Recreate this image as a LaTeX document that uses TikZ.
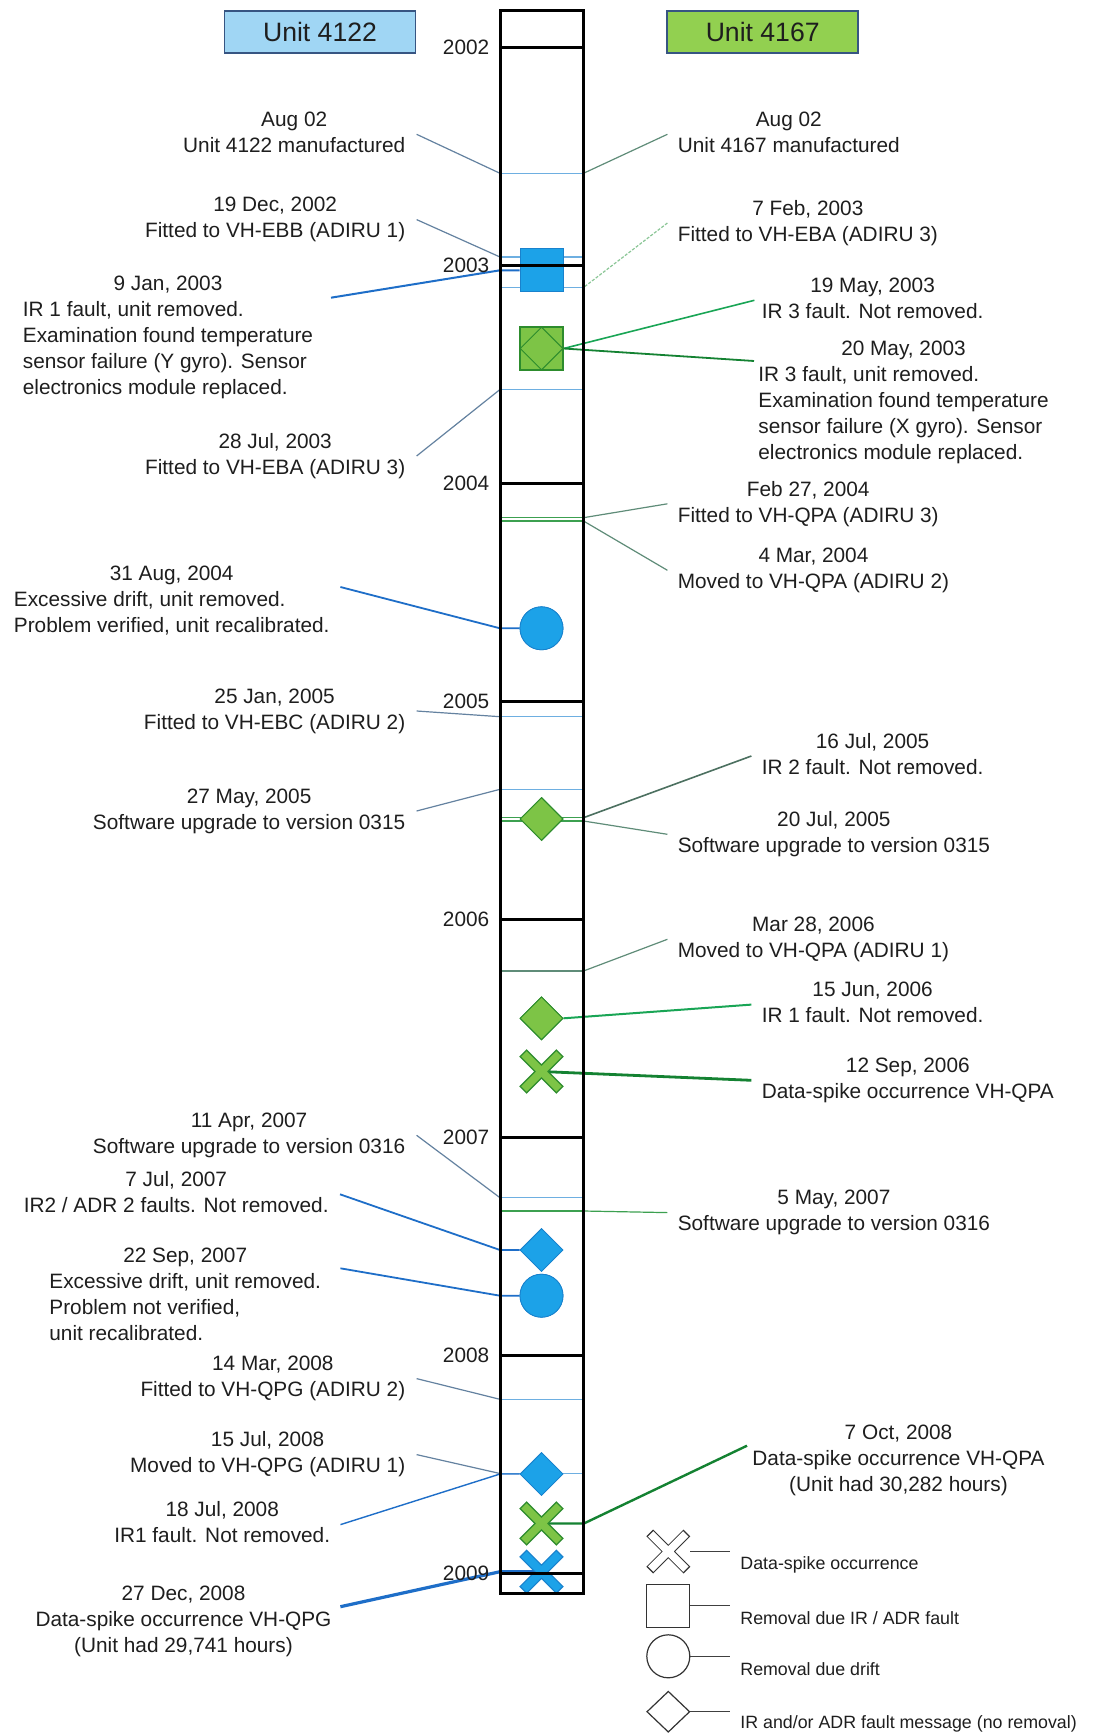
\documentclass[tikz,border=0pt]{standalone}
\usepackage{fontspec}
\setmainfont{Liberation Sans}
\usetikzlibrary{shapes.geometric}
\definecolor{tcol}{RGB}{30,30,30}
\definecolor{bfill}{RGB}{28,162,232}
\definecolor{bedge}{RGB}{25,130,205}
\definecolor{bline}{RGB}{30,110,200}
\definecolor{btick}{RGB}{110,175,225}
\definecolor{gfill}{RGB}{125,196,70}
\definecolor{gedge}{RGB}{45,140,45}
\definecolor{gline}{RGB}{25,165,85}
\definecolor{dgline}{RGB}{20,130,50}
\definecolor{gtick}{RGB}{60,160,80}
\definecolor{lgrey}{RGB}{100,130,160}
\definecolor{rgrey}{RGB}{95,140,120}
\definecolor{hblue}{RGB}{160,214,244}
\definecolor{hgreen}{RGB}{146,208,80}
\definecolor{hedge}{RGB}{55,85,130}
\newcommand{\tcen}[1]{\begin{tabular}[t]{@{}c@{}}#1\end{tabular}}
\newcommand{\tlft}[2]{\begin{tabular}[t]{@{}l@{}}\multicolumn{1}{@{}c@{}}{#1}\\#2\end{tabular}}
\newcommand{\mytick}[3]{\coordinate (#1l) at (500,#2); \coordinate (#1r) at (583.5,#2); \draw[#3] (#1l) -- (#1r);}
% X mark: #1 centre coordinate, #2 outline colour, #3 inner colour, #4 outer width, #5 inner width
\newcommand{\xmark}[5]{%
  \draw[line width=#4, draw=#2] ([shift={(-9.3pt,-9.3pt)}]#1) -- ([shift={(9.3pt,9.3pt)}]#1)
      ([shift={(-9.3pt,9.3pt)}]#1) -- ([shift={(9.3pt,-9.3pt)}]#1);
  \draw[line width=#5, draw=#3] ([shift={(-8.8pt,-8.8pt)}]#1) -- ([shift={(8.8pt,8.8pt)}]#1)
      ([shift={(-8.8pt,8.8pt)}]#1) -- ([shift={(8.8pt,-8.8pt)}]#1);}
\begin{document}
\begin{tikzpicture}[
  x=0.5pt,y=-0.5pt,
  txt/.style={inner sep=0pt, text=tcol, font=\fontsize{10.4}{13}\selectfont},
  lgtxt/.style={inner sep=0pt, text=tcol, font=\fontsize{8.9}{11}\selectfont, anchor=base west},
  yr/.style={txt, anchor=east},
  tkb/.style={draw=btick, line width=0.6pt},
  tkg/.style={draw=gtick, line width=0.6pt},
  lead/.style={line width=0.6pt},
  bsq/.style={rectangle, draw=bedge, fill=bfill, line width=0.4pt, minimum size=21.5pt, inner sep=0pt},
  gsq/.style={rectangle, draw=gedge, fill=gfill, line width=0.6pt, minimum size=21.5pt, inner sep=0pt},
  bcirc/.style={circle, draw=bedge, fill=bfill, line width=0.4pt, minimum size=21.5pt, inner sep=0pt},
  bdia/.style={diamond, draw=bedge, fill=bfill, line width=0.4pt, minimum width=21.5pt, minimum height=21.5pt, inner sep=0pt},
  gdia/.style={diamond, draw=gedge, fill=gfill, line width=0.5pt, minimum width=21.5pt, minimum height=21.5pt, inner sep=0pt},
  hdr/.style={draw=hedge, line width=0.8pt, minimum width=95.5pt, minimum height=21pt, inner sep=0pt, text=tcol, font=\fontsize{13.3}{16}\selectfont},
  lgline/.style={draw=black!75, line width=0.6pt},
]
\useasboundingbox[fill=white] (0,0) rectangle (1093,1733);

% headers
\node[hdr, fill=hblue] (h1) at (320,32) {Unit 4122};
\node[hdr, fill=hgreen] (h2) at (762.7,32) {Unit 4167};

% column body
\node[draw=none, fill=white, minimum width=41.5pt, minimum height=791pt, inner sep=0pt, anchor=north west] (col) at (500,11) {};

% ticks
\mytick{t1}{173.3}{tkb}
\mytick{t2}{257}{tkb}
\mytick{t3}{287.5}{tkb}
\mytick{t4}{389.5}{tkb}
\mytick{t5}{517.7}{tkg}
\mytick{t6}{521}{tkg}
\mytick{t7}{716.7}{tkb}
\mytick{t8}{789.3}{tkb}
\mytick{t9}{817.7}{tkg}
\mytick{t10}{821}{tkg}
\mytick{t11}{971}{draw=rgrey, line width=0.6pt}
\mytick{t12}{1197.7}{tkb}
\mytick{t13}{1211}{tkg}
\mytick{t14}{1399.3}{tkb}
\mytick{t15}{1473.5}{tkb}

% left texts (Unit 4122)
\node[txt, anchor=base east] (L1) at (405.6,126.5) {\tcen{Aug 02\\Unit 4122 manufactured}};
\node[txt, anchor=base east] (L2) at (405.6,211.8) {\tcen{19 Dec, 2002\\Fitted to VH-EBB (ADIRU 1)}};
\node[txt, anchor=base west] (L3) at (22.5,290.8) {\tlft{9 Jan, 2003}{IR 1 fault, unit removed.\\Examination found temperature\\sensor failure (Y gyro). Sensor\\electronics module replaced.}};
\node[txt, anchor=base east] (L4) at (405.6,448.2) {\tcen{28 Jul, 2003\\Fitted to VH-EBA (ADIRU 3)}};
\node[txt, anchor=base west] (L5) at (13.5,580.8) {\tlft{31 Aug, 2004}{Excessive drift, unit removed.\\Problem verified, unit recalibrated.}};
\node[txt, anchor=base east] (L6) at (405.6,703.2) {\tcen{25 Jan, 2005\\Fitted to VH-EBC (ADIRU 2)}};
\node[txt, anchor=base east] (L7) at (405.6,803.2) {\tcen{27 May, 2005\\Software upgrade to version 0315}};
\node[txt, anchor=base east] (L8) at (405.6,1127.5) {\tcen{11 Apr, 2007\\Software upgrade to version 0316}};
\node[txt, anchor=base east] (L9) at (329,1186.5) {\tcen{7 Jul, 2007\\IR2 / ADR 2 faults. Not removed.}};
\node[txt, anchor=base west] (L10) at (49,1262.5) {\tlft{22 Sep, 2007}{Excessive drift, unit removed.\\Problem not verified,\\unit recalibrated.}};
\node[txt, anchor=base east] (L11) at (405.6,1370.8) {\tcen{14 Mar, 2008\\Fitted to VH-QPG (ADIRU 2)}};
\node[txt, anchor=base east] (L12) at (405.6,1446.8) {\tcen{15 Jul, 2008\\Moved to VH-QPG (ADIRU 1)}};
\node[txt, anchor=base east] (L13) at (330.5,1516.8) {\tcen{18 Jul, 2008\\IR1 fault. Not removed.}};
\node[txt, anchor=base] (L14) at (183.5,1600.2) {\tcen{27 Dec, 2008\\Data-spike occurrence VH-QPG\\(Unit had 29,741 hours)}};

% right texts (Unit 4167)
\node[txt, anchor=base west] (R1) at (677.4,126.5) {\tcen{Aug 02\\Unit 4167 manufactured}};
\node[txt, anchor=base west] (R2) at (677.4,215.2) {\tcen{7 Feb, 2003\\Fitted to VH-EBA (ADIRU 3)}};
\node[txt, anchor=base west] (R3) at (761.4,292.5) {\tcen{19 May, 2003\\IR 3 fault. Not removed.}};
\node[txt, anchor=base west] (R4) at (758,355.2) {\tlft{20 May, 2003}{IR 3 fault, unit removed.\\Examination found temperature\\sensor failure (X gyro). Sensor\\electronics module replaced.}};
\node[txt, anchor=base west] (R5) at (677.4,496) {\tcen{Feb 27, 2004\\Fitted to VH-QPA (ADIRU 3)}};
\node[txt, anchor=base west] (R6) at (677.4,562.5) {\tcen{4 Mar, 2004\\Moved to VH-QPA (ADIRU 2)}};
\node[txt, anchor=base west] (R7) at (761.4,748.2) {\tcen{16 Jul, 2005\\IR 2 fault. Not removed.}};
\node[txt, anchor=base west] (R8) at (677.4,826.5) {\tcen{20 Jul, 2005\\Software upgrade to version 0315}};
\node[txt, anchor=base west] (R9) at (677.4,931.5) {\tcen{Mar 28, 2006\\Moved to VH-QPA (ADIRU 1)}};
\node[txt, anchor=base west] (R10) at (761.4,996.8) {\tcen{15 Jun, 2006\\IR 1 fault. Not removed.}};
\node[txt, anchor=base west] (R11) at (761.4,1072.5) {\tcen{12 Sep, 2006\\Data-spike occurrence VH-QPA}};
\node[txt, anchor=base west] (R12) at (677.4,1204.8) {\tcen{5 May, 2007\\Software upgrade to version 0316}};
\node[txt, anchor=base] (R13) at (898.5,1439.2) {\tcen{7 Oct, 2008\\Data-spike occurrence VH-QPA\\(Unit had 30,282 hours)}};

% shape positions
\node[bsq] (sq1) at (541.5,270.3) {};
\node[gsq] (sq2) at (541.5,348.5) {};
\node[bcirc] (circ1) at (541.5,628.3) {};
\node[gdia] (dia1) at (541.5,819) {};
\node[gdia] (dia2) at (541.5,1018.3) {};
\node[bdia] (dia3) at (541.5,1250) {};
\node[bcirc] (circ2) at (541.5,1295.7) {};
\node[bdia] (dia4) at (541.5,1474) {};
\coordinate (xg1) at (541.5,1071.5);
\coordinate (xg2) at (541.5,1523.5);
\coordinate (xb) at (541.5,1571.7);

% leader start points for multi-line blocks
\coordinate (c3) at (331,297.7);
\coordinate (c5) at (340.4,587);
\coordinate (c10) at (340.4,1268.3);
\coordinate (c14) at (340.4,1606.7);
\coordinate (c4) at (754,361);
\coordinate (c13) at (747,1445.7);

% left leaders
\draw[lead, draw=lgrey] ([xshift=5.5pt]L1.east) -- (t1l);
\draw[lead, draw=lgrey] ([xshift=5.5pt]L2.east) -- (t2l);
\draw[line width=1pt, draw=bline] (c3) -- (sq1.west -| col.west) -- (sq1.west);
\draw[lead, draw=lgrey] ([xshift=5.5pt]L4.east) -- (t4l);
\draw[line width=0.9pt, draw=bline] (c5) -- (circ1.west -| col.west) -- (circ1.west);
\draw[lead, draw=lgrey] ([xshift=5.5pt]L6.east) -- (t7l);
\draw[lead, draw=lgrey] ([xshift=5.5pt]L7.east) -- (t8l);
\draw[lead, draw=lgrey] ([xshift=5.5pt]L8.east) -- (t12l);
\draw[line width=0.9pt, draw=bline] ([xshift=5.5pt]L9.east) -- (dia3.west -| col.west) -- (dia3.west);
\draw[line width=0.9pt, draw=bline] (c10) -- (circ2.west -| col.west) -- (circ2.west);
\draw[lead, draw=lgrey] ([xshift=5.5pt]L11.east) -- (t14l);
\draw[lead, draw=lgrey] ([xshift=5.5pt]L12.east) -- (t15l);
\draw[line width=0.7pt, draw=bline] ([xshift=5pt]L13.east) -- (dia4.west -| col.west) -- (dia4.west);
\draw[line width=1.6pt, draw=bline] (c14) -- (xb -| col.west) -- (xb);
% right leaders
\draw[lead, draw=rgrey] ([xshift=-5pt]R1.west) -- (t1r);
\draw[lead, draw=gtick!60, dash pattern=on 1.5pt off 0.8pt] ([xshift=-5pt]R2.west) -- (t3r);
\draw[line width=0.8pt, draw=gline] ([xshift=-3.5pt]R3.west) -- (sq2.east);
\draw[line width=0.9pt, draw=dgline] (c4) -- (sq2.east);
\draw[lead, draw=rgrey] ([xshift=-5pt]R5.west) -- (t5r);
\draw[lead, draw=rgrey] ([xshift=-5pt]R6.west) -- (t6r);
\draw[line width=0.8pt, draw=rgrey!80!black] ([xshift=-5pt]R7.west) -- (t9r);
\draw[lead, draw=rgrey] ([xshift=-5pt]R8.west) -- (t10r);
\draw[lead, draw=rgrey] ([xshift=-5pt]R9.west) -- (t11r);
\draw[line width=1pt, draw=gline] ([xshift=-5pt]R10.west) -- (dia2.east);
\draw[line width=1.4pt, draw=dgline] ([xshift=-5pt]R11.west) -- (xg1);
\draw[lead, draw=gtick] ([xshift=-5pt]R12.west) -- (t13r);
\draw[line width=1.2pt, draw=dgline] (c13) -- (xg2 -| col.east) -- (xg2);

% shapes drawn over the leaders
\node[bsq] at (sq1) {};
\node[gsq] at (sq2) {};
\node[diamond, draw=gedge, line width=0.5pt, minimum width=21.5pt, minimum height=21.5pt, inner sep=0pt] (sq2d) at (sq2) {};
\node[bcirc] at (circ1) {};
\node[gdia] at (dia1) {};
\node[gdia] at (dia2) {};
\node[bdia] at (dia3) {};
\node[bcirc] at (circ2) {};
\node[bdia] at (dia4) {};
\xmark{xg1}{gedge}{gfill}{5.2pt}{3.8pt}
\xmark{xg2}{gedge}{gfill}{5.2pt}{3.8pt}
\xmark{xb}{bedge}{bfill}{5.2pt}{4pt}

% column frame and year lines
\draw[line width=1.5pt] (col.north west) rectangle (col.south east);
\foreach \yy/\yl in {47.7/2002,265.6/2003,483.6/2004,701.5/2005,919.5/2006,1137.4/2007,1355.4/2008,1573.3/2009}{
  \draw[line width=1.5pt] (col.west |- 0,\yy) -- (col.east |- 0,\yy);
  \node[yr] (y\yl) at (489.6,\yy) {\yl};
}

% legend
\coordinate (lgx) at (668.3,1551.5);
\xmark{lgx}{black!80}{white}{4.8pt}{3.8pt}
\node[draw=black!80, line width=0.6pt, minimum size=21.5pt, inner sep=0pt] (lgs) at (668.3,1605.7) {};
\node[circle, draw=black!80, line width=0.6pt, minimum size=21.5pt, inner sep=0pt] (lgc) at (668.3,1656.3) {};
\node[diamond, draw=black!80, line width=0.6pt, minimum width=21.5pt, minimum height=20.5pt, inner sep=0pt] (lgd) at (668.3,1711.7) {};
\node[lgtxt] (lt1) at (740,1569.5) {Data-spike occurrence};
\node[lgtxt] (lt2) at (740,1624) {Removal due IR / ADR fault};
\node[lgtxt] (lt3) at (740,1675.5) {Removal due drift};
\node[lgtxt] (lt4) at (740,1728) {IR and/or ADR fault message (no removal)};
\draw[lgline] ([xshift=11pt]lgx) -- ([xshift=-5pt]lgx -| lt1.west);
\draw[lgline] (lgs.east) -- ([xshift=-5pt]lgs.east -| lt2.west);
\draw[lgline] (lgc.east) -- ([xshift=-5pt]lgc.east -| lt3.west);
\draw[lgline] (lgd.east) -- ([xshift=-5pt]lgd.east -| lt4.west);
\end{tikzpicture}
\end{document}
